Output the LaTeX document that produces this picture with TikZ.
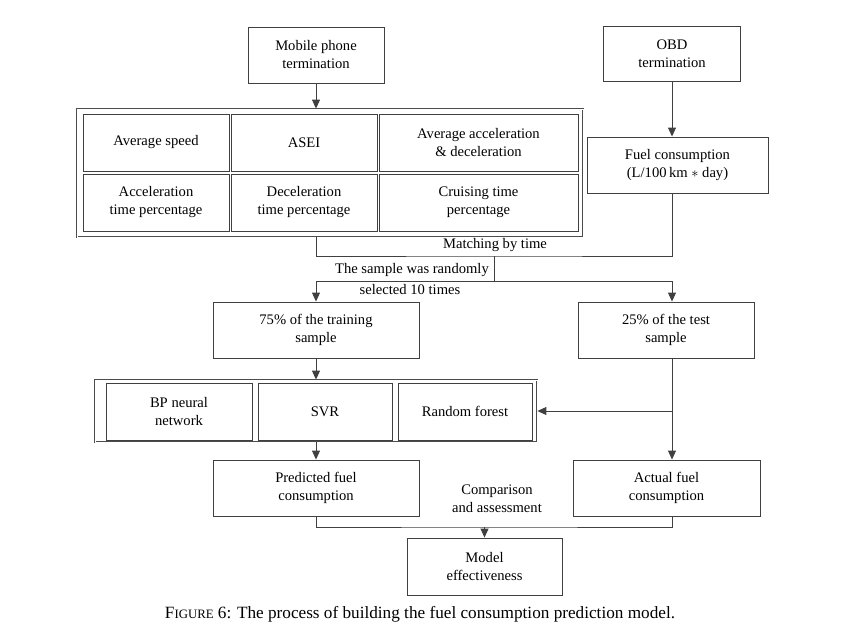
\documentclass[tikz,border=0pt]{standalone}
\usepackage{fontspec}
\setmainfont{Liberation Serif}
\usetikzlibrary{calc,arrows.meta}

\begin{document}
\begin{tikzpicture}[x=1pt,y=-1pt]
            \useasboundingbox (0,0) rectangle (864,637);
            \tikzset{Box/.style={draw=black!75,line width=0.9pt,inner sep=0pt,align=center,font=\fontsize{14.6}{18}\selectfont}};
            \tikzset{Frame/.style={draw=black!70,double=white,double distance=1pt,line width=0.8pt,inner sep=0pt}};
            \tikzset{Link/.style={draw=black!75,line width=0.9pt}};
            \tikzset{Arr/.style={Link,-{Triangle[length=9pt,width=8pt]}}};
            \tikzset{Lbl/.style={font=\fontsize{14.6}{18}\selectfont,align=center,inner sep=0pt}};

            \node[Box,minimum width=136,minimum height=56] (mob) at (316,55) {Mobile phone\\termination};
            \node[Box,minimum width=137,minimum height=55] (obd) at (672,54) {OBD\\termination};

            \node[Frame,minimum width=506,minimum height=128] (feat) at (330,173) {};
            \node[Box,minimum width=146,minimum height=57] (avs) at (156,142.5) {Average speed};
            \node[Box,minimum width=146,minimum height=57] (asei) at (304,142.5) {ASEI};
            \node[Box,minimum width=199,minimum height=57] (aad) at (478.5,142.5) {Average acceleration\\\& deceleration};
            \node[Box,minimum width=146,minimum height=57] (atp) at (156,202.5) {Acceleration\\time percentage};
            \node[Box,minimum width=146,minimum height=57] (dtp) at (304,202.5) {Deceleration\\time percentage};
            \node[Box,minimum width=199,minimum height=57] (ctp) at (478.5,202.5) {Cruising time\\percentage};

            \node[Box,minimum width=181,minimum height=56] (fuel) at (677.5,165) {Fuel consumption\\(L/100\,km $*$ day)};

            \node[Box,minimum width=206,minimum height=56] (train) at (316,330) {75\% of the training\\sample};
            \node[Box,minimum width=176,minimum height=56] (test) at (666,330) {25\% of the test\\sample};

            \node[Frame,minimum width=442,minimum height=62] (cls) at (316,411) {};
            \node[Box,minimum width=146,minimum height=57] (bpn) at (179,411.5) {BP neural\\network};
            \node[Box,minimum width=134,minimum height=57] (svr) at (325,411.5) {SVR};
            \node[Box,minimum width=134,minimum height=57] (rf) at (465,411.5) {Random forest};

            \node[Box,minimum width=206,minimum height=56] (pred) at (316,488) {Predicted fuel\\consumption};
            \node[Box,minimum width=187,minimum height=56] (act) at (666.5,488) {Actual fuel\\consumption};
            \node[Box,minimum width=155,minimum height=57] (model) at (484.5,566.5) {Model\\effectiveness};

            \node[Lbl] (mbt) at (495,245) {Matching by time};
            \node[Lbl,anchor=east] (rnd) at (489,270) {The sample was randomly};
            \node[Lbl] (sel) at (410,290) {selected 10 times};
            \node[Lbl] (cmp) at (497,499) {Comparison\\and assessment};
            \node[Lbl,font=\fontsize{17.2}{20}\selectfont] (cap) at (420,614) {F{\fontsize{12.8}{20}\selectfont IGURE} 6: The process of building the fuel consumption prediction model.};

            \coordinate (mt) at (494,256);
            \coordinate (sp) at (494,281);
            \coordinate (ca) at (484.5,527);

            \draw[Arr] (mob) -- (mob |- feat.north);
            \draw[Arr] (obd) -- (obd |- fuel.north);
            \draw[Link] (feat.south -| mob) |- (mt) -| (fuel.south -| obd);
            \draw[Link] (mt) -- (sp);
            \draw[Arr] (sp) -| (train.north);
            \draw[Arr] (sp) -| (test.north -| obd);
            \draw[Arr] (train) -- (train |- cls.north);
            \draw[Arr] (test.south -| obd) -- (act.north -| obd);
            \draw[Arr] (cls.east -| obd) -- (cls.east);
            \draw[Arr] (train |- cls.south) -- (pred);
            \draw[Link] (pred) |- (ca) -| (act.south -| obd);
            \draw[Arr] (ca) -- (model);
          \end{tikzpicture}
\end{document}
